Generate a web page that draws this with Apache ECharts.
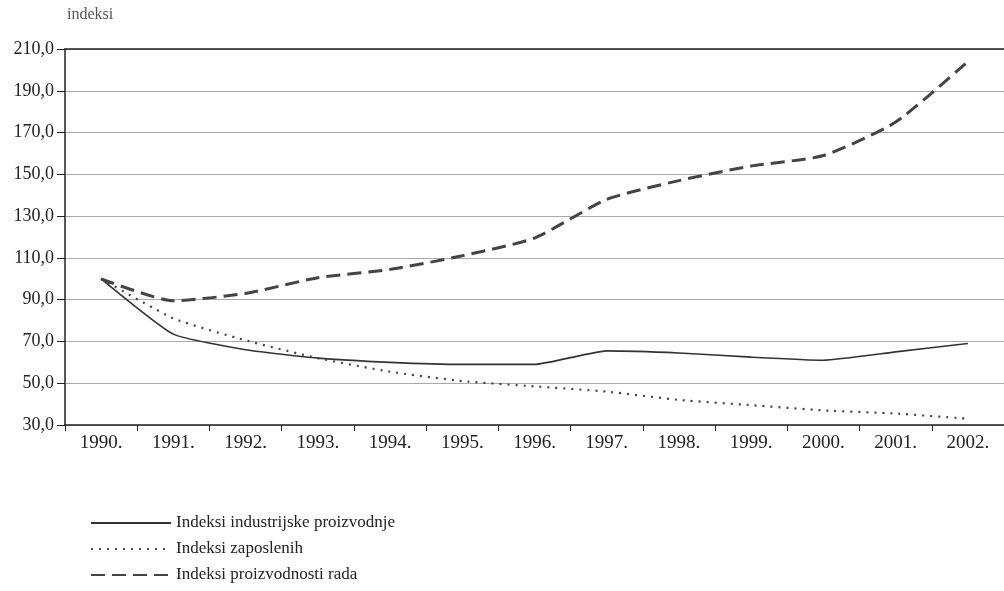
<!DOCTYPE html>
<html><head><meta charset="utf-8">
<script src="https://cdn.jsdelivr.net/npm/echarts@6/dist/echarts.min.js"></script>
<style>html,body{margin:0;padding:0;background:#fff}#c{width:1004px;height:591px}</style>
</head><body><div id="c"></div>
<script>
var years = ['1990.','1991.','1992.','1993.','1994.','1995.','1996.','1997.','1998.','1999.','2000.','2001.','2002.'];
var industrija = [100, 73.5, 66, 62, 60, 59, 59, 65.5, 64.5, 62.5, 61, 65, 69];
var zaposleni = [100, 81, 70.5, 62, 55.5, 51, 48.5, 46, 42, 39.5, 37, 35.5, 33];
var produktivnost = [100, 89.5, 93, 100.5, 104.5, 111, 119.5, 138, 147, 154, 159, 175, 204];
var names = ['Indeksi industrijske proizvodnje','Indeksi zaposlenih','Indeksi proizvodnosti rada'];

var font = 'Liberation Serif';
var chart = echarts.init(document.getElementById('c'));
chart.setOption({
  animation:false,
  backgroundColor:'#fff',
  grid:{left:65,right:-7,top:49,bottom:166},
  legend:{
    orient:'vertical', left:90, top:514, padding:0, height:90, itemWidth:80, itemHeight:12, itemGap:8,
    itemStyle:{opacity:0},
    textStyle:{fontFamily:font,fontSize:17,color:'#222',lineHeight:18},
    data:names
  },
  xAxis:[{
    type:'category', data:years, boundaryGap:true,
    axisLine:{lineStyle:{color:'#222',width:1.5}},
    axisTick:{show:true,interval:0,length:6,lineStyle:{color:'#222'}},
    axisLabel:{fontFamily:font,fontSize:19,color:'#222',margin:9,interval:0}
  },{
    type:'category', data:years, position:'top',
    axisLine:{lineStyle:{color:'#222',width:1.5}},
    axisTick:{show:false}, axisLabel:{show:false}
  }],
  yAxis:{
    type:'value', min:30, max:210, interval:20,
    name:'indeksi', nameGap:26, nameTextStyle:{fontFamily:font,fontSize:16,color:'#555',align:'left',padding:[0,0,0,2]},
    axisLine:{show:true,lineStyle:{color:'#222',width:1.5}},
    axisTick:{show:true,length:8,lineStyle:{color:'#222'}},
    axisLabel:{fontFamily:font,fontSize:18,color:'#222',margin:11,formatter:function(v){return v.toFixed(1).replace('.',',');}},
    splitLine:{lineStyle:{color:'#aaa',width:1.2}}
  },
  series:[
    {name:names[0],type:'line',data:industrija,symbol:'none',smooth:0.15,
     lineStyle:{color:'#333',width:1.6,type:'solid'},itemStyle:{color:'#333'}},
    {name:names[1],type:'line',data:zaposleni,symbol:'none',smooth:0.15,
     lineStyle:{color:'#444',width:2.2,type:[2,6]},itemStyle:{color:'#444'}},
    {name:names[2],type:'line',data:produktivnost,symbol:'none',smooth:0.2,
     lineStyle:{color:'#444',width:3,type:[14,7]},itemStyle:{color:'#444'}}
  ]
});
</script></body></html>
